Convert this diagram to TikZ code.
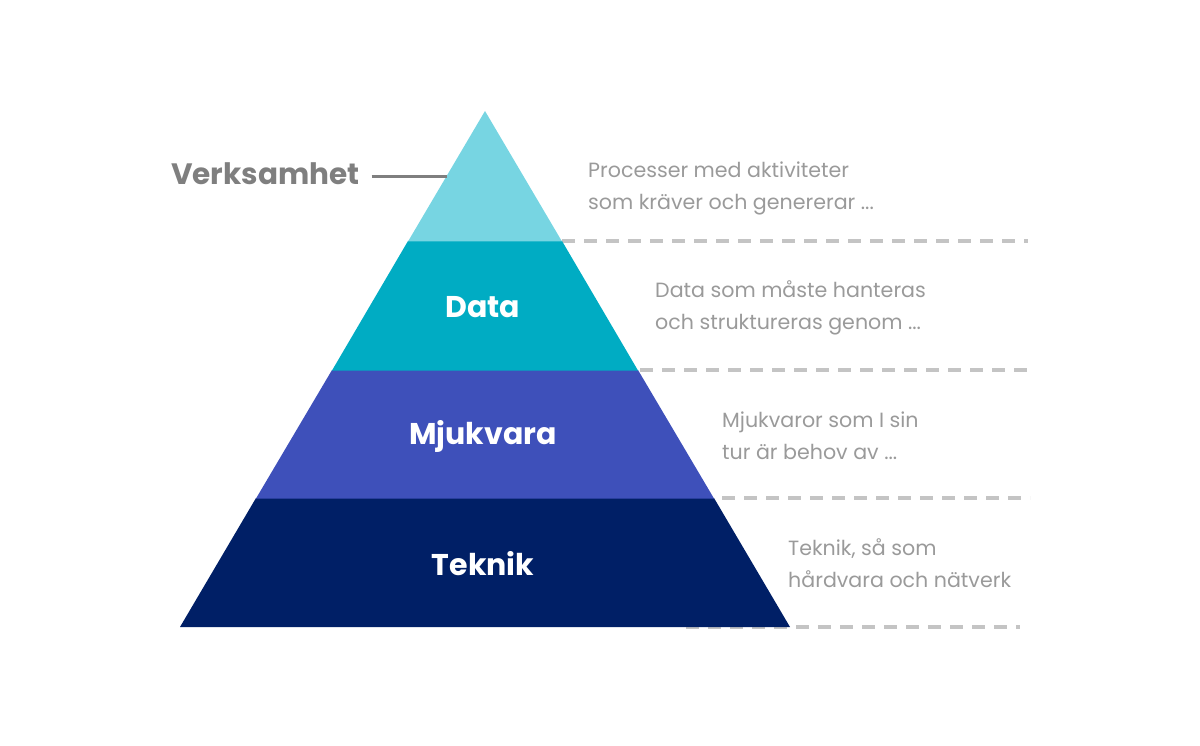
\documentclass[tikz,border=0pt]{standalone}
\usepackage{fontspec}
\setmainfont{Poppins}
\definecolor{cTop}{HTML}{77D5E2}
\definecolor{cData}{HTML}{00ACC3}
\definecolor{cMjuk}{HTML}{3E50BA}
\definecolor{cTek}{HTML}{001F66}
\definecolor{cDash}{HTML}{C4C4C4}
\definecolor{cDesc}{HTML}{9A9A9A}
\definecolor{cVerk}{HTML}{7F7F7F}
\tikzset{
  dashline/.style={cDash, line width=4pt, dash pattern=on 13pt off 9pt},
  desc/.style={anchor=base west, inner sep=0pt, text=cDesc, font=\fontsize{20.6}{24}\selectfont},
  layerlabel/.style={text=white, font=\fontsize{30}{36}\selectfont\bfseries, inner sep=0pt},
}
\begin{document}
\begin{tikzpicture}[x=1pt,y=-1pt]
\useasboundingbox (0,0) rectangle (1200,746);
% dashed separators
\coordinate (d1a) at (562,241); \coordinate (d1b) at (1028,241);
\coordinate (d2a) at (640,370); \coordinate (d2b) at (1030,370);
\coordinate (d3a) at (722,498); \coordinate (d3b) at (1030,498);
\coordinate (d4a) at (686,627); \coordinate (d4b) at (1020,627);
\draw[dashline] (d1a) -- (d1b);
\draw[dashline] (d2a) -- (d2b);
\draw[dashline] (d3a) -- (d3b);
\draw[dashline] (d4a) -- (d4b);
% pyramid layers
\fill[cTek] (256,498) -- (714,498) -- (790,627) -- (180,627) -- cycle;
\fill[cMjuk] (332,370) -- (638,370) -- (714,498.5) -- (256,498.5) -- cycle;
\fill[cData] (408,241) -- (562,241) -- (638,370.5) -- (332,370.5) -- cycle;
\fill[cTop] (485,111) -- (562,241.5) -- (408,241.5) -- cycle;
% labels
\node[layerlabel] (data) at (483,307) {Data};
\node[layerlabel] (mjuk) at (483,436) {Mjukvara};
\node[layerlabel] (tek) at (483,564) {Teknik};
% Verksamhet
\node[anchor=base west, inner sep=0pt, text=cVerk, font=\fontsize{29.5}{36}\selectfont\bfseries] (verk) at (171,185) {Verksamhet};
\coordinate (verkend) at (447,177);
\draw[cVerk, line width=3pt] ([xshift=12pt]verk.east |- verkend) -- (verkend);
% descriptions
\node[desc] (p1) at (588,178) {Processer med aktiviteter};
\node[desc] (p2) at (588,210) {som kräver och genererar ...};
\node[desc] (q1) at (655,298) {Data som måste hanteras};
\node[desc] (q2) at (655,330) {och struktureras genom ...};
\node[desc] (r1) at (722,427) {Mjukvaror som I sin};
\node[desc] (r2) at (722,459) {tur är behov av ...};
\node[desc] (s1) at (788,555) {Teknik, så som};
\node[desc] (s2) at (788,587) {hårdvara och nätverk};
\end{tikzpicture}
\end{document}
